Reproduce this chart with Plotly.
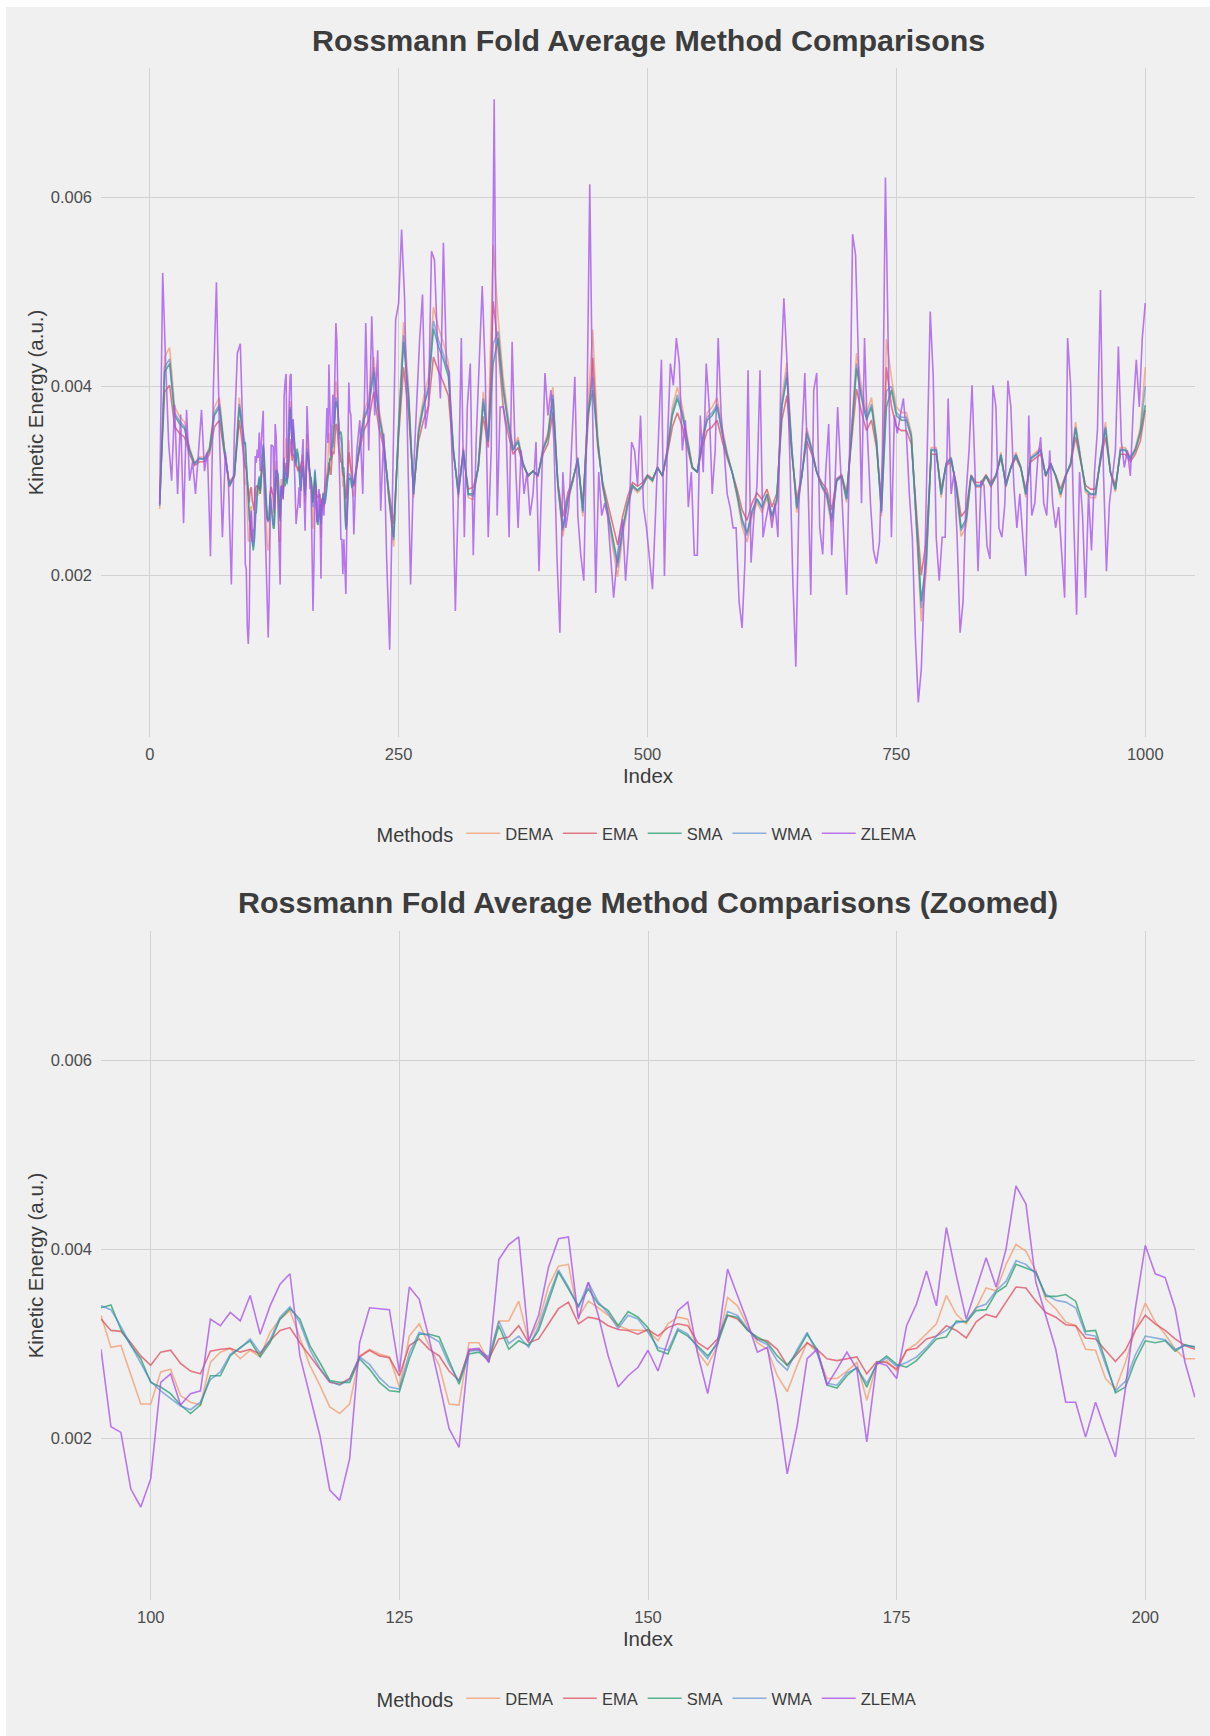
import plotly.graph_objects as go

W, H = 1210, 1736

# ---------------- data (kinetic energy, in units of 1e-4 a.u.) ----------------
methods = ["DEMA", "EMA", "SMA", "WMA", "ZLEMA"]

# Detailed readings, index 95..205 (step 1) - used by both panels
dema_zoom = [33.0, 29.6, 29.8, 26.6, 23.6, 23.6, 27.0, 27.3, 24.5, 23.8, 23.5, 28.0, 29.1, 29.5, 28.4, 29.3,
             28.6, 31.2, 32.6, 33.5, 30.5, 27.7, 25.6, 23.3, 22.6, 23.6, 28.7, 29.4, 28.9, 28.6, 25.4, 30.8,
             32.1, 29.8, 27.7, 23.6, 23.5, 30.1, 30.1, 28.0, 32.4, 32.4, 34.5, 30.3, 32.3, 36.1, 38.2, 38.4,
             32.8, 34.5, 33.8, 33.0, 31.9, 31.5, 31.4, 31.4, 30.3, 32.1, 32.8, 32.6, 29.1, 27.7, 29.8, 34.9,
             34.0, 31.9, 30.1, 29.4, 26.6, 24.9, 27.7, 30.1, 29.1, 26.3, 26.3, 27.1, 28.0, 24.0, 27.8, 28.2,
             27.1, 29.3, 30.0, 31.0, 32.1, 35.1, 33.1, 32.1, 33.8, 35.9, 35.6, 38.4, 40.5, 39.8, 37.7, 34.7,
             33.7, 32.3, 31.9, 29.4, 29.3, 26.3, 25.2, 28.0, 31.5, 34.3, 32.3, 31.0, 29.4, 28.4, 28.4]
ema_zoom = [32.6, 31.4, 31.3, 30.1, 28.7, 27.7, 29.1, 29.3, 27.9, 27.1, 26.8, 29.2, 29.4, 29.5, 29.1, 29.4,
            28.9, 30.3, 31.4, 31.7, 30.1, 28.7, 27.3, 25.9, 25.7, 26.3, 28.6, 29.3, 28.7, 28.5, 26.6, 29.8,
            30.5, 29.4, 28.7, 27.1, 26.1, 29.3, 29.4, 28.4, 30.5, 30.7, 31.9, 30.1, 30.5, 32.1, 33.7, 34.4,
            32.1, 32.8, 32.6, 31.9, 31.5, 31.4, 31.0, 31.5, 30.8, 31.7, 32.1, 31.9, 30.1, 29.4, 30.5, 33.0,
            32.6, 31.5, 30.5, 30.3, 29.4, 27.7, 28.9, 30.1, 29.4, 28.4, 28.2, 28.4, 28.6, 26.8, 28.1, 28.0,
            27.3, 29.3, 29.5, 30.5, 30.8, 31.9, 31.4, 30.6, 32.3, 33.1, 32.8, 34.4, 36.0, 35.9, 34.5, 33.3,
            32.8, 32.0, 31.9, 30.6, 30.5, 29.3, 28.1, 29.3, 31.4, 33.0, 32.1, 31.4, 30.5, 29.8, 29.4]
sma_zoom = [33.8, 34.1, 31.5, 29.8, 28.4, 25.9, 25.4, 24.7, 23.5, 22.6, 23.5, 26.6, 26.6, 28.7, 29.6, 30.3,
            28.6, 30.1, 32.6, 33.7, 32.6, 29.8, 28.0, 26.1, 25.9, 25.9, 28.4, 27.3, 25.9, 25.0, 24.9, 28.4,
            31.0, 31.0, 30.7, 28.2, 25.7, 28.9, 29.1, 28.2, 31.9, 29.4, 30.3, 29.8, 31.4, 34.5, 37.6, 35.8,
            34.0, 35.8, 34.2, 33.5, 31.9, 33.4, 32.8, 31.7, 29.3, 28.9, 31.4, 30.8, 29.8, 28.7, 30.0, 33.0,
            32.8, 31.4, 30.7, 30.1, 28.7, 27.7, 29.1, 31.0, 29.4, 25.6, 25.3, 26.6, 27.5, 25.4, 27.9, 28.7,
            27.8, 27.5, 28.2, 29.3, 30.5, 30.7, 32.4, 32.3, 33.5, 33.6, 35.4, 36.1, 38.4, 38.0, 37.6, 35.0,
            35.0, 35.2, 34.5, 31.3, 31.4, 28.2, 24.8, 25.4, 28.2, 30.3, 30.1, 30.3, 29.2, 29.9, 29.6]
wma_zoom = [34.0, 33.6, 31.8, 29.9, 28.0, 26.0, 25.0, 24.2, 23.4, 23.0, 23.8, 26.2, 27.0, 28.9, 29.5, 30.5,
            29.0, 30.4, 32.8, 33.9, 32.2, 29.4, 27.4, 26.0, 25.6, 26.2, 28.6, 27.8, 26.4, 25.4, 25.2, 29.0,
            31.2, 30.8, 30.2, 27.8, 26.0, 29.2, 29.3, 28.6, 32.4, 30.0, 30.8, 29.6, 31.8, 35.0, 37.8, 36.0,
            33.8, 36.5, 34.4, 33.2, 31.6, 33.0, 32.6, 31.2, 29.6, 29.3, 31.6, 31.0, 29.6, 28.4, 30.3, 33.4,
            33.0, 31.6, 30.4, 29.9, 28.2, 27.2, 29.4, 31.2, 29.0, 25.8, 25.6, 26.9, 27.4, 25.8, 27.8, 28.5,
            27.6, 28.0, 28.6, 29.6, 30.8, 31.4, 32.2, 32.4, 33.8, 34.2, 35.6, 36.6, 38.8, 38.4, 37.4, 35.2,
            34.6, 34.4, 33.8, 31.0, 30.8, 27.8, 25.0, 26.0, 28.8, 30.8, 30.6, 30.4, 29.4, 29.8, 29.7]
zlema_zoom = [29.4, 21.2, 20.6, 14.6, 12.7, 15.7, 25.9, 26.8, 23.5, 24.7, 25.0, 32.6, 31.9, 33.3, 32.4, 35.1,
              31.0, 34.0, 36.3, 37.4, 28.7, 24.5, 20.3, 14.5, 13.4, 17.8, 30.1, 33.8, 33.7, 33.6, 27.0, 36.0,
              34.7, 30.5, 25.9, 21.0, 19.0, 29.4, 29.5, 28.0, 38.9, 40.5, 41.3, 30.3, 33.0, 38.1, 41.1, 41.3,
              32.6, 36.5, 33.0, 28.7, 25.4, 26.6, 27.5, 29.3, 27.1, 30.3, 33.5, 34.4, 28.9, 24.7, 30.1, 37.9,
              35.1, 32.3, 29.1, 29.6, 23.8, 16.2, 21.3, 28.4, 29.4, 25.6, 27.3, 29.1, 27.3, 19.6, 28.0, 27.7,
              26.3, 31.9, 34.2, 37.7, 34.0, 42.3, 37.2, 32.6, 35.8, 39.1, 36.0, 40.0, 46.7, 44.8, 36.5, 33.0,
              29.4, 23.8, 23.8, 20.1, 23.8, 20.8, 18.0, 25.2, 33.7, 40.4, 37.4, 37.0, 33.7, 28.0, 24.3]

# Coarser readings of the full run: smoothed methods every 5 indices (10..90, 210..600, 605..1000)
dema_pre = [27.0, 43.1, 44.1, 37.8, 36.8, 36.2, 33.5, 31.9, 32.5, 32.5, 33.5, 37.8, 38.8, 33.5, 29.3, 30.4, 38.8]
ema_pre = [28.2, 39.4, 40.1, 35.7, 35.0, 34.6, 32.8, 31.6, 32.0, 32.0, 32.8, 35.7, 36.4, 32.8, 29.8, 30.6, 36.4]
sma_pre = [27.5, 41.5, 42.4, 36.9, 36.0, 35.5, 33.2, 31.8, 32.3, 32.3, 33.2, 36.9, 37.8, 33.2, 29.5, 30.5, 37.8]
wma_pre = [27.3, 42.0, 42.9, 37.2, 36.3, 35.7, 33.3, 31.8, 32.4, 32.2, 33.4, 37.2, 38.1, 33.3, 29.4, 30.5, 38.1]

dema_mid = [33.5, 37.2, 38.8, 43.1, 37.8, 34.6, 28.2, 23.0, 36.2, 46.8, 39.9, 28.2, 35.6, 38.8, 40.9, 48.4,
            46.2, 44.6, 42.5, 33.5, 28.2, 33.5, 28.2, 28.0, 31.5, 39.4, 34.6, 55.0, 47.2, 40.9, 36.8, 33.5,
            34.6, 31.9, 30.4, 31.0, 30.4, 33.5, 35.1, 39.9, 29.3, 24.1, 27.7, 29.9, 32.5, 26.2, 37.8, 46.0,
            34.6, 29.3, 26.2, 23.0, 19.8, 24.1, 27.1, 29.3, 28.7, 29.3, 30.4, 29.9, 31.5, 30.4, 33.5, 37.8,
            39.9, 37.8, 34.6, 31.5, 30.9, 34.6, 37.2, 37.8, 38.8, 35.6, 33.0, 30.9, 28.2, 25.1, 23.5]
ema_mid = [32.8, 35.3, 36.4, 39.4, 35.7, 33.5, 29.1, 25.4, 34.6, 42.0, 37.2, 29.1, 34.2, 36.4, 37.9, 43.1,
           41.6, 40.4, 39.0, 32.8, 29.1, 32.8, 29.1, 29.3, 31.3, 36.8, 33.5, 49.0, 44.0, 37.9, 35.0, 32.8,
           33.5, 31.6, 30.6, 31.0, 30.6, 32.8, 33.9, 37.2, 29.8, 26.2, 28.7, 30.2, 32.0, 27.6, 35.7, 43.0,
           33.5, 29.8, 27.6, 25.4, 23.2, 26.2, 28.3, 29.8, 29.4, 29.8, 30.6, 30.2, 31.3, 30.6, 32.8, 35.7,
           37.2, 35.7, 33.5, 31.3, 30.9, 33.5, 35.3, 35.7, 36.4, 34.2, 32.4, 30.9, 29.1, 26.9, 25.8]
sma_mid = [33.2, 36.4, 37.8, 41.5, 36.9, 34.1, 28.6, 24.0, 35.5, 44.7, 38.7, 28.6, 35.0, 37.8, 39.6, 46.1,
           44.2, 42.8, 41.0, 33.2, 28.6, 33.2, 28.6, 28.6, 31.4, 38.3, 34.1, 42.4, 45.1, 39.6, 36.0, 33.2,
           34.1, 31.8, 30.5, 31.0, 30.5, 33.2, 34.6, 38.7, 29.5, 25.0, 28.1, 30.0, 32.3, 26.8, 36.9, 39.6,
           34.1, 29.5, 26.8, 24.0, 21.3, 25.0, 27.6, 29.5, 29.0, 29.5, 30.5, 30.0, 31.4, 30.5, 33.2, 36.9,
           38.7, 36.9, 34.1, 31.4, 30.9, 34.1, 36.4, 36.9, 37.8, 35.0, 32.7, 30.9, 28.6, 25.9, 24.5]
wma_mid = [33.3, 36.7, 38.1, 42.0, 37.2, 34.3, 28.5, 23.7, 35.7, 45.4, 39.1, 28.5, 35.2, 38.1, 40.0, 46.9,
           44.9, 43.4, 41.5, 33.3, 28.5, 33.3, 28.5, 28.4, 31.4, 38.7, 34.3, 44.5, 45.8, 40.0, 36.3, 33.3,
           34.3, 31.8, 30.5, 31.0, 30.5, 33.3, 34.8, 39.1, 29.4, 24.7, 28.0, 30.0, 32.4, 26.6, 37.2, 41.0,
           34.3, 29.4, 26.6, 23.7, 20.8, 24.7, 27.4, 29.4, 28.9, 29.4, 30.5, 30.0, 31.4, 30.5, 33.3, 37.2,
           39.1, 37.2, 34.3, 31.4, 30.9, 34.3, 36.7, 37.2, 38.1, 35.2, 32.8, 30.9, 28.5, 25.6, 24.2]

dema_end = [26.2, 27.7, 26.6, 28.2, 25.6, 27.7, 38.8, 42.5, 33.5, 26.6, 30.4, 35.6, 33.5, 30.9, 29.3, 28.2,
            25.1, 29.9, 30.4, 27.7, 35.1, 43.5, 39.9, 37.2, 38.8, 34.6, 26.2, 45.0, 40.9, 37.8, 37.2, 37.2,
            35.1, 25.6, 15.1, 20.3, 33.5, 33.5, 28.2, 31.9, 32.5, 29.3, 24.1, 25.1, 30.4, 29.3, 29.3, 30.4,
            29.3, 30.4, 33.0, 29.3, 31.5, 33.0, 31.5, 28.2, 32.5, 33.0, 33.5, 30.4, 31.9, 30.4, 28.2, 30.4,
            31.9, 36.2, 32.5, 28.8, 28.2, 28.2, 32.5, 36.2, 30.9, 28.8, 33.5, 33.5, 32.5, 33.5, 35.6, 42.0]
ema_end = [27.6, 28.7, 28.0, 29.1, 27.2, 28.7, 36.4, 39.0, 32.8, 28.0, 30.6, 34.2, 32.8, 30.9, 29.8, 29.1,
           26.9, 30.2, 30.6, 28.7, 33.9, 39.7, 37.2, 35.3, 36.4, 33.5, 27.6, 42.0, 37.9, 35.7, 35.3, 35.3,
           33.9, 27.2, 20.0, 23.6, 32.8, 32.8, 29.1, 31.6, 32.0, 29.8, 26.2, 26.9, 30.6, 29.8, 29.8, 30.6,
           29.8, 30.6, 32.4, 29.8, 31.3, 32.4, 31.3, 29.1, 32.0, 32.4, 32.8, 30.6, 31.6, 30.6, 29.1, 30.6,
           31.6, 34.6, 32.0, 29.5, 29.1, 29.1, 32.0, 34.6, 30.9, 29.5, 32.8, 32.8, 32.0, 32.8, 34.2, 37.5]
sma_end = [26.8, 28.1, 27.2, 28.6, 26.3, 28.1, 37.8, 41.0, 33.2, 27.2, 30.5, 35.0, 33.2, 30.9, 29.5, 28.6,
           25.9, 30.0, 30.5, 28.1, 34.6, 41.9, 38.7, 36.4, 37.8, 34.1, 26.8, 37.8, 39.6, 36.9, 36.4, 36.4,
           34.6, 26.3, 17.2, 21.7, 33.2, 33.2, 28.6, 31.8, 32.3, 29.5, 25.0, 25.9, 30.5, 29.5, 29.5, 30.5,
           29.5, 30.5, 32.7, 29.5, 31.4, 32.7, 31.4, 28.6, 32.3, 32.7, 33.2, 30.5, 31.8, 30.5, 28.6, 30.5,
           31.8, 35.5, 32.3, 29.1, 28.6, 28.6, 32.3, 35.5, 30.9, 29.1, 33.2, 33.2, 32.3, 33.2, 35.0, 38.0]
wma_end = [26.6, 28.0, 27.0, 28.5, 26.1, 28.0, 38.1, 41.5, 33.3, 27.0, 30.5, 35.2, 33.3, 30.9, 29.4, 28.5,
           25.6, 30.0, 30.5, 28.0, 34.8, 42.4, 39.1, 36.7, 38.1, 34.3, 26.6, 39.5, 40.0, 37.2, 36.7, 36.7,
           34.8, 26.1, 16.5, 21.2, 33.3, 33.3, 28.5, 31.8, 32.4, 29.4, 24.7, 25.6, 30.5, 29.4, 29.4, 30.5,
           29.4, 30.5, 32.8, 29.4, 31.4, 32.8, 31.4, 28.5, 32.4, 32.8, 33.3, 30.5, 31.8, 30.5, 28.5, 30.5,
           31.8, 35.7, 32.4, 29.0, 28.5, 28.5, 32.4, 35.7, 30.9, 29.0, 33.3, 33.3, 32.4, 33.3, 35.2, 40.0]

# ZLEMA full run every 3 indices (10..94, 208..319, 322..673, 676..1000)
zlema_pre = [27.5, 52.0, 42.4, 34.0, 30.0, 38.0, 28.6, 37.0, 25.5, 37.5, 30.0, 32.0, 28.6, 33.5, 37.5, 31.0,
             33.0, 22.0, 40.0, 51.0, 35.0, 24.0, 33.0, 30.0, 19.0, 35.0, 43.5, 44.5, 33.0]
zlema_a = [33.2, 36.4, 28.6, 46.7, 33.2, 47.4, 36.9, 43.8, 26.8, 35.0, 21.7, 12.1, 29.5, 47.0, 48.8, 56.6,
           49.3, 33.2, 19.0, 30.9, 37.8, 44.7, 49.7, 35.5, 37.8, 54.3, 53.4, 44.7, 38.7, 55.2, 42.4, 41.4,
           31.4, 16.2, 28.6, 45.1, 24.0, 37.8]
zlema_b = [42.4, 22.1, 34.6, 42.8, 50.6, 41.5, 24.0, 33.2, 70.4, 26.3, 37.8, 37.8, 35.5, 24.0, 44.7, 33.2,
           25.0, 33.2, 28.6, 30.9, 26.3, 28.6, 34.1, 20.4, 30.9, 41.4, 36.9, 39.6, 34.1, 22.1, 13.9, 30.9,
           25.0, 27.2, 34.1, 41.0, 26.3, 22.1, 19.4, 35.5, 61.4, 36.4, 18.1, 30.9, 26.3, 27.6, 26.3, 22.1,
           17.6, 21.3, 24.0, 25.9, 19.4, 24.0, 34.1, 33.2, 29.5, 36.9, 27.2, 25.0, 22.1, 18.5, 26.3, 35.5,
           42.8, 19.9, 34.1, 42.4, 40.1, 45.1, 42.4, 33.2, 36.4, 27.2, 30.9, 22.1, 22.1, 36.9, 30.9, 42.4,
           37.8, 28.6, 33.2, 45.1, 36.9, 33.2, 28.6, 27.2, 25.0, 25.0, 17.2, 14.4, 21.7, 41.7, 21.3, 26.3,
           29.5, 41.7, 24.0, 25.9, 27.6, 25.0, 27.6, 24.0, 41.4, 49.3, 42.8, 32.3, 19.4, 10.3, 27.2, 34.1,
           41.4, 30.9, 17.9, 39.6, 41.4, 25.0]
zlema_c = [22.2, 30.9, 36.0, 22.1, 28.6, 37.8, 30.9, 23.5, 17.9, 33.2, 56.1, 53.9, 42.4, 27.6, 45.1, 34.6,
           27.6, 22.6, 21.2, 23.5, 33.2, 62.1, 42.4, 24.0, 36.9, 35.0, 36.9, 38.7, 35.0, 28.6, 24.0, 13.5,
           6.5, 10.0, 18.5, 33.2, 47.9, 41.0, 24.0, 19.4, 24.0, 24.0, 38.7, 28.6, 30.9, 24.0, 13.9, 17.2,
           28.6, 33.2, 40.1, 30.9, 20.4, 30.0, 29.5, 23.1, 21.7, 40.1, 37.8, 25.0, 24.0, 27.6, 40.6, 37.8,
           29.5, 25.0, 28.6, 24.0, 19.9, 36.9, 26.3, 27.6, 32.3, 34.6, 27.6, 26.3, 33.2, 27.6, 25.0, 27.2,
           22.1, 17.6, 45.1, 40.1, 26.3, 15.8, 30.9, 26.3, 17.6, 28.6, 22.6, 30.9, 35.5, 50.2, 30.9, 20.4,
           27.6, 30.5, 33.2, 44.2, 34.1, 31.4, 33.2, 30.5, 37.8, 42.8, 37.8, 45.1, 48.8]

# tick labels
top_ticks = [0, 250, 500, 750, 1000]
zoom_ticks = [100, 125, 150, 175, 200]
y_ticks = [0.002, 0.004, 0.006]
y_ticktext = ["0.002", "0.004", "0.006"]

# ---------------- assemble series ----------------
def seg(start, step, vals):
    return [start + step * i for i in range(len(vals))]

ZOOM_X = seg(95, 1, sma_zoom)
smooth_x = seg(10, 5, sma_pre) + ZOOM_X + seg(210, 5, sma_mid) + seg(605, 5, sma_end)
zlema_x = (seg(10, 3, zlema_pre) + ZOOM_X + seg(208, 3, zlema_a) + seg(322, 3, zlema_b)
           + seg(676, 3, zlema_c))

SCALE = 1e-4
full = {
    "DEMA": (smooth_x, dema_pre + dema_zoom + dema_mid + dema_end),
    "EMA": (smooth_x, ema_pre + ema_zoom + ema_mid + ema_end),
    "SMA": (smooth_x, sma_pre + sma_zoom + sma_mid + sma_end),
    "WMA": (smooth_x, wma_pre + wma_zoom + wma_mid + wma_end),
    "ZLEMA": (zlema_x, zlema_pre + zlema_zoom + zlema_a + zlema_b + zlema_c),
}
zoom = {
    "DEMA": dema_zoom, "EMA": ema_zoom, "SMA": sma_zoom, "WMA": wma_zoom, "ZLEMA": zlema_zoom,
}

colors = {
    "DEMA": "rgba(244,160,118,0.80)",
    "EMA": "rgba(222,78,98,0.75)",
    "SMA": "rgba(38,158,108,0.75)",
    "WMA": "rgba(70,132,205,0.60)",
    "ZLEMA": "rgba(168,82,238,0.78)",
}

FONT = "Liberation Sans, Arial, sans-serif"
TXT = "#3c3c3c"
TICK = "#4d4d4d"
GRID = "#d2d2d2"
BG = "#f0f0f0"

fig = go.Figure()
for m in methods:
    xs, ys = full[m]
    fig.add_trace(go.Scatter(x=xs, y=[v * SCALE for v in ys], mode="lines", name=m,
                             line=dict(color=colors[m], width=1.6),
                             xaxis="x", yaxis="y", legend="legend"))
for m in methods:
    fig.add_trace(go.Scatter(x=ZOOM_X, y=[v * SCALE for v in zoom[m]], mode="lines", name=m,
                             line=dict(color=colors[m], width=1.6),
                             xaxis="x2", yaxis="y2", legend="legend2"))

def px_x(p):
    return p / W

def px_y(p):
    return 1 - p / H

XDOM = [px_x(101), px_x(1195)]
YRANGE = [0.000285, 0.00737]

axis_common = dict(showgrid=True, gridcolor=GRID, gridwidth=1, zeroline=False, showline=False,
                   ticks="", tickfont=dict(family=FONT, size=16.5, color=TICK))

xtitle = dict(text="Index", font=dict(family=FONT, size=20.5, color=TXT), standoff=7)
ytitle = dict(text="Kinetic Energy (a.u.)", font=dict(family=FONT, size=20.5, color=TXT), standoff=1)

legend_common = dict(orientation="h", xanchor="center", x=px_x(648), yanchor="middle",
                     bgcolor="rgba(0,0,0,0)", font=dict(family=FONT, size=16.5, color=TXT),
                     title=dict(text="Methods", side="left", font=dict(family=FONT, size=20, color=TXT)),
                     itemwidth=34, traceorder="normal")

fig.update_layout(
    width=W, height=H, autosize=False,
    margin=dict(l=0, r=0, t=0, b=0),
    paper_bgcolor=BG, plot_bgcolor=BG,
    font=dict(family=FONT, color=TXT),
    xaxis=dict(domain=XDOM, anchor="y", range=[-48.95, 1049.95], tickvals=top_ticks,
               title=xtitle, ticklabelstandoff=5, **axis_common),
    yaxis=dict(domain=[px_y(737), px_y(68)], anchor="x", range=YRANGE, tickvals=y_ticks,
               ticktext=y_ticktext, title=ytitle, ticklabelstandoff=8, **axis_common),
    xaxis2=dict(domain=XDOM, anchor="y2", range=[95, 205], tickvals=zoom_ticks,
                title=xtitle, ticklabelstandoff=5, **axis_common),
    yaxis2=dict(domain=[px_y(1600), px_y(931)], anchor="x2", range=YRANGE, tickvals=y_ticks,
                ticktext=y_ticktext, title=ytitle, ticklabelstandoff=8, **axis_common),
    legend=dict(y=px_y(834), **legend_common),
    legend2=dict(y=px_y(1699), **legend_common),
    showlegend=True,
    annotations=[
        dict(text="<b>Rossmann Fold Average Method Comparisons</b>", x=px_x(648), y=px_y(40),
             xref="paper", yref="paper", xanchor="center", yanchor="middle", showarrow=False,
             font=dict(family=FONT, size=30.4, color=TXT)),
        dict(text="<b>Rossmann Fold Average Method Comparisons (Zoomed)</b>", x=px_x(648),
             y=px_y(902), xref="paper", yref="paper", xanchor="center", yanchor="middle",
             showarrow=False, font=dict(family=FONT, size=30.4, color=TXT)),
    ],
    shapes=[
        dict(type="rect", xref="paper", yref="paper", x0=0, x1=1, y0=px_y(7), y1=1,
             fillcolor="white", line=dict(width=0), layer="below"),
        dict(type="rect", xref="paper", yref="paper", x0=0, x1=px_x(6), y0=0, y1=1,
             fillcolor="white", line=dict(width=0), layer="below"),
    ],
)

fig.write_html("out.html")
